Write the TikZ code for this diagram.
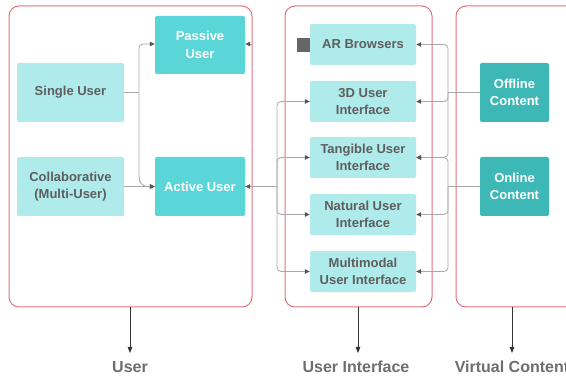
\documentclass[tikz,border=0pt]{standalone}
\usepackage{fontspec}
\setmainfont{Liberation Sans}
\usetikzlibrary{arrows.meta}
\definecolor{lightbox}{HTML}{AEEBEA}
\definecolor{midbox}{HTML}{5AD5D8}
\definecolor{darkbox}{HTML}{3DB8B7}
\definecolor{txtgray}{HTML}{5E5E5E}
\definecolor{frame}{HTML}{E0737C}
\definecolor{wire}{HTML}{A8A8A8}
\definecolor{tipc}{HTML}{555555}
\tikzset{
  container/.style={draw=frame, line width=1pt, rounded corners=10pt},
  lightnode/.style={fill=lightbox, rounded corners=2pt, text=txtgray, font=\bfseries\fontsize{13}{17.5}\selectfont, align=center, inner sep=0pt},
  midnode/.style={fill=midbox, rounded corners=2pt, text=white, font=\bfseries\fontsize{13}{17.5}\selectfont, align=center, inner sep=0pt},
  darknode/.style={fill=darkbox, rounded corners=2pt, text=white, font=\bfseries\fontsize{13}{17.5}\selectfont, align=center, inner sep=0pt},
  wirestyle/.style={draw=wire, line width=0.8pt, rounded corners=4pt},
  arr/.style={wirestyle, -{Triangle[length=5pt,width=4.5pt,color=tipc]}},
  downarr/.style={draw=black!80, line width=0.8pt, -{Triangle[length=6pt,width=4.5pt]}},
  bottomlabel/.style={text=txtgray!90, font=\bfseries\fontsize{16}{19}\selectfont}
}
\begin{document}
\begin{tikzpicture}[x=1pt,y=-1pt]
\useasboundingbox (0,0) rectangle (566,377);
\clip (0,0) rectangle (566,377);
\fill[white] (0,0) rectangle (566,377);
% containers
\draw[container] (9,6) rectangle (252,307);
\draw[container] (285,6) rectangle (432,307);
\draw[container] (456,6) rectangle (590,307);
\coordinate (userbot) at (130,307);
\coordinate (uibot) at (358,307);
\coordinate (vcbot) at (512,307);
% user nodes
\node[midnode, minimum width=90pt, minimum height=58pt] (passive) at (200,45) {Passive\\User};
\node[lightnode, minimum width=107pt, minimum height=59pt] (single) at (70.5,92.5) {Single User};
\node[lightnode, minimum width=107pt, minimum height=59pt] (collab) at (70.5,186.5) {Collaborative\\(Multi-User)};
\node[midnode, minimum width=90pt, minimum height=59pt] (active) at (200,186.5) {Active User};
% UI nodes
\node[lightnode, minimum width=106pt, minimum height=41pt] (ar) at (363,44.5) {AR Browsers};
\node[lightnode, minimum width=106pt, minimum height=41pt] (three) at (363,101.5) {3D User\\Interface};
\node[lightnode, minimum width=106pt, minimum height=41pt] (tang) at (363,157.5) {Tangible User\\Interface};
\node[lightnode, minimum width=106pt, minimum height=41pt] (nat) at (363,214.5) {Natural User\\Interface};
\node[lightnode, minimum width=106pt, minimum height=41pt] (multi) at (363,271.5) {Multimodal\\User Interface};
\node[fill=tipc!90, minimum width=13pt, minimum height=14pt, inner sep=0pt] (sq) at (303.5,45) {};
% content nodes
\node[darknode, minimum width=69pt, minimum height=59pt] (offline) at (514.5,92.5) {Offline\\Content};
\node[darknode, minimum width=69pt, minimum height=59pt] (online) at (514.5,186.5) {Online\\Content};
% left fork
\coordinate (lf) at (139,92.5);
\draw[wirestyle] (single.east) -- (lf);
\draw[arr] (lf) |- (passive.west |- 0,44);
\draw[arr] (lf) -- (139,180) -- (143,186.5) -- (active.west);
\draw[arr] (collab.east) -- (active.west);
\coordinate (pr) at (252,44);
\draw[arr] (pr) -- (passive.east |- pr);
% UI left bus
\coordinate (lb) at (277,186.5);
\draw[arr] (lb) -- (active.east);
\draw[arr] (lb) |- (three.west);
\draw[arr] (lb) |- (tang.west);
\draw[arr] (lb) |- (nat.west);
\draw[arr] (lb) |- (multi.west);
% UI right bus
\coordinate (rb1) at (448,92.5);
\coordinate (rb2) at (448,186.5);
\draw[wirestyle] (offline.west) -- (rb1);
\draw[wirestyle] (online.west) -- (rb2);
\draw[arr] (rb1) |- (ar.east);
\draw[arr] (rb1) |- (three.east);
\draw[arr] (rb1) |- (tang.east);
\draw[arr] (rb2) |- (tang.east);
\draw[arr] (rb2) |- (nat.east);
\draw[arr] (rb2) |- (multi.east);
% bottom labels
\node[bottomlabel] (ulab) at (130,367) {User};
\node[bottomlabel] (uilab) at (356,367) {User Interface};
\node[bottomlabel] (vclab) at (512,367) {Virtual Content};
\draw[downarr] (userbot) -- (130,353);
\draw[downarr] (uibot) -- (358,353);
\draw[downarr] (vcbot) -- (512,353);
\end{tikzpicture}
\end{document}
